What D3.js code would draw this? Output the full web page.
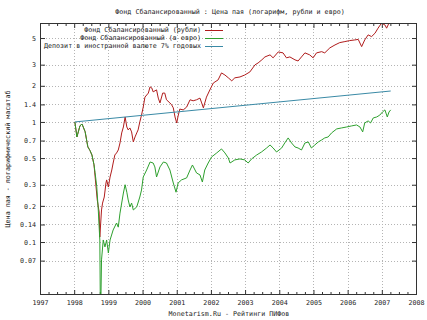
<!DOCTYPE html>
<html>
<head>
<meta charset="utf-8">
<script src="https://cdn.jsdelivr.net/npm/d3@7"></script>
<style>
  body { margin: 0; background: #fff; }
  text { font-family: "DejaVu Sans Mono", monospace; font-size: 6.7px; fill: #222; }
</style>
</head>
<body>
<script>
// fund in roubles: [year, price]
const rubSeries = [
  [1998.02, 1.00], [1998.08, 0.75], [1998.17, 0.93], [1998.23, 0.96], [1998.32, 0.83],
  [1998.40, 0.62], [1998.46, 0.58], [1998.52, 0.53], [1998.58, 0.44], [1998.61, 0.355],
  [1998.675, 0.224], [1998.73, 0.178], [1998.75, 0.11], [1998.80, 0.185], [1998.83, 0.211],
  [1998.88, 0.237], [1998.93, 0.31], [1998.95, 0.329], [1999.00, 0.287], [1999.05, 0.348],
  [1999.10, 0.398], [1999.14, 0.455], [1999.19, 0.531], [1999.24, 0.552], [1999.29, 0.584],
  [1999.34, 0.668], [1999.39, 0.81], [1999.44, 0.908], [1999.49, 1.10], [1999.54, 0.908],
  [1999.58, 0.858], [1999.63, 0.891], [1999.68, 0.826], [1999.73, 0.681], [1999.78, 0.75],
  [1999.83, 0.81], [1999.87, 0.858], [1999.92, 1.0], [1999.97, 1.14], [2000.02, 1.33],
  [2000.07, 1.61], [2000.17, 1.74], [2000.22, 1.96], [2000.27, 1.92], [2000.31, 1.78],
  [2000.41, 1.85], [2000.46, 1.58], [2000.51, 1.44], [2000.59, 1.74], [2000.65, 1.74],
  [2000.70, 1.53], [2000.80, 1.44], [2000.85, 1.39], [2000.90, 1.31], [2000.95, 1.10],
  [2001.00, 0.98], [2001.04, 1.12], [2001.09, 1.28], [2001.19, 1.26], [2001.29, 1.33],
  [2001.39, 1.53], [2001.48, 1.50], [2001.58, 1.53], [2001.68, 1.58], [2001.73, 1.44],
  [2001.78, 1.31], [2001.87, 1.61], [2001.97, 1.85], [2002.07, 2.11], [2002.21, 2.24],
  [2002.31, 2.56], [2002.41, 2.46], [2002.51, 2.33], [2002.61, 2.20], [2002.70, 2.33],
  [2002.85, 2.37], [2002.99, 2.46], [2003.14, 2.61], [2003.29, 2.99], [2003.38, 3.10],
  [2003.49, 3.29], [2003.58, 3.48], [2003.73, 3.62], [2003.82, 3.42], [2003.97, 3.83],
  [2004.11, 3.76], [2004.21, 3.42], [2004.31, 3.48], [2004.46, 3.29], [2004.55, 3.22],
  [2004.65, 3.48], [2004.75, 3.76], [2004.89, 3.62], [2004.99, 3.42], [2005.09, 3.76],
  [2005.24, 3.85], [2005.33, 3.76], [2005.48, 4.14], [2005.63, 4.38], [2005.77, 4.58],
  [2005.92, 4.67], [2006.06, 4.76], [2006.21, 4.82], [2006.31, 4.87], [2006.41, 4.24],
  [2006.50, 4.82], [2006.60, 5.31], [2006.70, 5.14], [2006.80, 5.48], [2006.89, 6.04],
  [2006.99, 6.64], [2007.09, 6.43], [2007.14, 6.04], [2007.23, 6.85], [2007.26, 7.08]
];

// fund in euro: [year, price]
const eurSeries = [
  [1998.02, 1.00], [1998.08, 0.75], [1998.17, 0.93], [1998.23, 0.96], [1998.32, 0.83],
  [1998.40, 0.62], [1998.46, 0.58], [1998.52, 0.53], [1998.58, 0.44], [1998.61, 0.38],
  [1998.66, 0.29], [1998.705, 0.185], [1998.75, 0.104], [1998.77, 0.02], [1998.80, 0.071],
  [1998.85, 0.104], [1998.90, 0.091], [1998.95, 0.104], [1999.00, 0.081], [1999.05, 0.104],
  [1999.14, 0.126], [1999.24, 0.144], [1999.29, 0.133], [1999.34, 0.174], [1999.44, 0.256],
  [1999.49, 0.30], [1999.54, 0.26], [1999.58, 0.224], [1999.63, 0.196], [1999.68, 0.211],
  [1999.73, 0.185], [1999.83, 0.196], [1999.92, 0.237], [1999.97, 0.271], [2000.02, 0.348],
  [2000.12, 0.398], [2000.22, 0.464], [2000.31, 0.455], [2000.36, 0.422], [2000.41, 0.348],
  [2000.51, 0.422], [2000.61, 0.464], [2000.70, 0.455], [2000.80, 0.398], [2000.90, 0.31],
  [2000.98, 0.26], [2001.04, 0.31], [2001.14, 0.329], [2001.29, 0.342], [2001.39, 0.398],
  [2001.46, 0.438], [2001.58, 0.376], [2001.68, 0.362], [2001.75, 0.316], [2001.82, 0.398],
  [2001.92, 0.455], [2002.02, 0.511], [2002.17, 0.552], [2002.31, 0.596], [2002.41, 0.552],
  [2002.51, 0.501], [2002.56, 0.455], [2002.70, 0.483], [2002.85, 0.492], [2002.99, 0.483],
  [2003.09, 0.455], [2003.19, 0.492], [2003.34, 0.531], [2003.48, 0.562], [2003.63, 0.607],
  [2003.73, 0.643], [2003.82, 0.607], [2003.92, 0.562], [2004.07, 0.607], [2004.16, 0.668],
  [2004.26, 0.736], [2004.36, 0.668], [2004.46, 0.619], [2004.55, 0.607], [2004.65, 0.584],
  [2004.75, 0.668], [2004.85, 0.681], [2004.94, 0.607], [2005.04, 0.643], [2005.14, 0.681],
  [2005.24, 0.708], [2005.33, 0.736], [2005.43, 0.75], [2005.53, 0.81], [2005.68, 0.875],
  [2005.82, 0.891], [2005.97, 0.908], [2006.11, 0.926], [2006.26, 0.944], [2006.36, 0.908],
  [2006.44, 0.826], [2006.50, 0.981], [2006.60, 1.02], [2006.67, 0.981], [2006.75, 1.08],
  [2006.85, 1.10], [2006.94, 1.14], [2007.02, 1.21], [2007.09, 1.26], [2007.16, 1.10],
  [2007.21, 1.21], [2007.26, 1.26]
];

// foreign currency deposit, 7% a year
const depositSeries = [[1998.02, 1.00], [2007.26, 1.81]];

const yTicks = [0.07, 0.1, 0.14, 0.2, 0.3, 0.5, 0.7, 1, 1.4, 2, 3, 5];
const xTicks = d3.range(1997, 2009);

const seriesNames = [
  "Фонд Сбалансированный (рубли)",
  "Фонд Сбалансированный (в евро)",
  "Депозит в иностранной валюте 7% годовых"
];
const seriesColors = ["#b01c1c", "#2ea02e", "#3a8aa6"];

const width = 427, height = 320;
const padL = 40, padR = 417, padT = 23, padB = 295;

const xScale = d3.scaleLinear().domain([1997, 2008]).range([padL, 416]);
const yScale = d3.scaleLog().domain([0.0362, 6.67]).range([padB, padT]);

const svg = d3.select("body").append("svg")
  .attr("width", width)
  .attr("height", height);

svg.append("clipPath").attr("id", "plot-clip")
  .append("rect")
  .attr("x", padL).attr("y", padT)
  .attr("width", padR - padL).attr("height", padB - padT);

// grid
const grid = svg.append("g")
  .attr("stroke", "#b4b4b4")
  .attr("stroke-width", 1)
  .attr("stroke-dasharray", "1,2");
grid.selectAll(".gx")
  .data(xTicks.slice(1, -1))
  .enter().append("line")
  .attr("x1", d => Math.round(xScale(d)) + 0.5)
  .attr("x2", d => Math.round(xScale(d)) + 0.5)
  .attr("y1", padT).attr("y2", padB);
grid.selectAll(".gy")
  .data(yTicks)
  .enter().append("line")
  .attr("x1", padL).attr("x2", padR)
  .attr("y1", d => Math.round(yScale(d)) + 0.5)
  .attr("y2", d => Math.round(yScale(d)) + 0.5);

// axes: gnuplot style inward ticks, mirrored
const xAxisBottom = d3.axisBottom(xScale).tickValues(xTicks).tickSize(-5).tickFormat(d3.format(""));
const xAxisTop = d3.axisTop(xScale).tickValues(xTicks).tickSize(-5).tickFormat("");
const minorX = d3.range(1997, 2008.01, 0.25).filter(d => d % 1 !== 0);
const xMinorBottom = d3.axisBottom(xScale).tickValues(minorX).tickSize(-3).tickFormat("");
const xMinorTop = d3.axisTop(xScale).tickValues(minorX).tickSize(-3).tickFormat("");
const yAxisLeft = d3.axisLeft(yScale).tickValues(yTicks).tickSize(-5).tickFormat(d => String(d));
const yAxisRight = d3.axisRight(yScale).tickValues(yTicks).tickSize(-5).tickFormat("");

const addAxis = (axis, tx, ty) => {
  const g = svg.append("g")
    .attr("transform", `translate(${tx},${ty})`)
    .call(axis);
  g.select(".domain").remove();
  g.selectAll("line").attr("stroke", "#333");
  g.selectAll("text")
    .style("font-family", "DejaVu Sans Mono, monospace")
    .style("font-size", "6.7px")
    .attr("fill", "#222");
  return g;
};
addAxis(xAxisBottom, 0, padB).selectAll("text").attr("y", 5).attr("dy", "0.71em");
addAxis(xAxisTop, 0, padT);
addAxis(xMinorBottom, 0, padB);
addAxis(xMinorTop, 0, padT);
addAxis(yAxisLeft, padL, 0).selectAll("text").attr("x", -4);
addAxis(yAxisRight, padR, 0);

// series
const line = d3.line().x(d => xScale(d[0])).y(d => yScale(d[1]));
const plot = svg.append("g").attr("clip-path", "url(#plot-clip)");
[rubSeries, eurSeries, depositSeries].forEach((s, i) => {
  plot.append("path")
    .datum(s)
    .attr("fill", "none")
    .attr("stroke", seriesColors[i])
    .attr("stroke-width", 1)
    .attr("stroke-linejoin", "round")
    .attr("d", line);
});

// border
svg.append("rect")
  .attr("x", padL + 0.5).attr("y", padT + 0.5)
  .attr("width", padR - padL - 1).attr("height", padB - padT - 1)
  .attr("fill", "none")
  .attr("stroke", "#333")
  .attr("stroke-width", 1);

// legend
const legend = svg.append("g");
seriesNames.forEach((name, i) => {
  const y = 30 + i * 8;
  legend.append("text")
    .attr("x", 201).attr("y", y)
    .attr("dy", "0.35em")
    .attr("text-anchor", "end")
    .text(name);
  legend.append("line")
    .attr("x1", 205).attr("x2", 223)
    .attr("y1", y + 0.5).attr("y2", y + 0.5)
    .attr("stroke", seriesColors[i])
    .attr("stroke-width", 1);
});

// titles
svg.append("text")
  .attr("x", 230).attr("y", 12)
  .attr("dy", "0.35em")
  .attr("text-anchor", "middle")
  .text("Фонд Сбалансированный : Цена пая (логарифм, рубли и евро)");

svg.append("text")
  .attr("x", 229).attr("y", 314)
  .attr("dy", "0.35em")
  .attr("text-anchor", "middle")
  .text("Monetarism.Ru - Рейтинги ПИФов");

svg.append("text")
  .attr("transform", "translate(8,159) rotate(-90)")
  .attr("dy", "0.35em")
  .attr("text-anchor", "middle")
  .text("Цена пая - логарифмический масштаб");
</script>
</body>
</html>
